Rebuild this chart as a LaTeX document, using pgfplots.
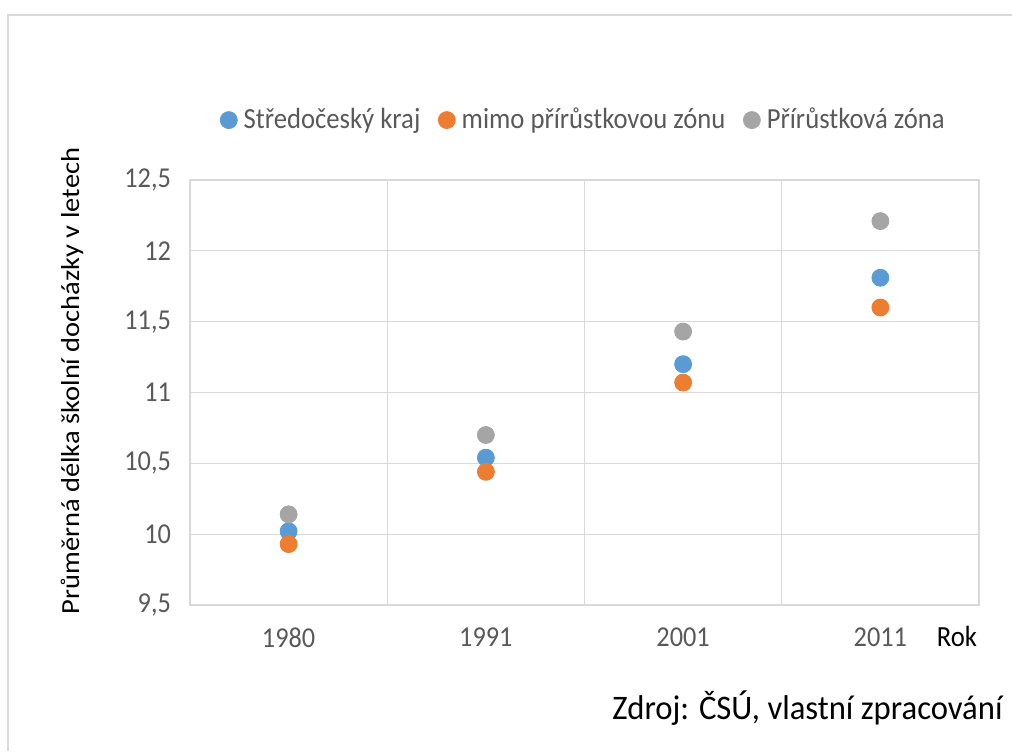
\documentclass[border=0pt]{standalone}
\usepackage{pgfplots}
\pgfplotsset{compat=1.18}
\usepackage{fontspec}
\setmainfont{Carlito}[FakeStretch=0.913]
\newfontfamily\rotfont{Carlito}[FakeStretch=1.095]
\newfontfamily\srcfont{Carlito}[FakeStretch=0.95]
\definecolor{cblue}{HTML}{5B9BD5}
\definecolor{corange}{HTML}{ED7D31}
\definecolor{cgray}{HTML}{A5A5A5}
\definecolor{gridc}{HTML}{D9D9D9}
\definecolor{tickc}{HTML}{595959}
\begin{document}
\begin{tikzpicture}
\path[use as bounding box] (0,0) rectangle (506pt,375.5pt);
\draw[gridc, line width=1.2pt] (4pt,0) -- (4pt,368pt) -- (506pt,368pt);
\begin{axis}[
  at={(95pt,73pt)}, anchor=south west,
  scale only axis, width=394.5pt, height=212.5pt,
  xmin=-0.5, xmax=3.5, ymin=9.5, ymax=12.5,
  xtick={0,1,2,3}, xticklabels={1980,1991,2001,2011},
  minor xtick={-0.5,0.5,1.5,2.5,3.5},
  ytick={9.5,10,10.5,11,11.5,12,12.5},
  yticklabel style={/pgf/number format/use comma,/pgf/number format/fixed},
  /pgf/number format/assume math mode=true,
  ymajorgrids, xminorgrids,
  grid style={gridc, line width=0.6pt},
  minor grid style={gridc, line width=0.6pt},
  axis line style={gridc, line width=0.6pt},
  major tick length=0pt, minor tick length=0pt,
  tick label style={font=\fontsize{14.4}{16}\selectfont, text=tickc},
  xticklabel style={yshift=-8pt},
  yticklabel style={xshift=-6pt},
  legend style={at={(0.5,1.141)}, anchor=center, draw=none, fill=none,
    legend columns=-1, font=\fontsize{14.6}{16}\selectfont, text=tickc,
    /tikz/every even column/.append style={column sep=7pt},
    /tikz/every odd column/.append style={column sep=1.2pt},
    legend cell align=left},
  clip=false,
]
\addplot[only marks, mark=*, mark size=4.25pt, color=cblue] coordinates {(0,10.02) (1,10.54) (2,11.20) (3,11.81)};
\addlegendentry{Středočeský kraj}
\addplot[only marks, mark=*, mark size=4.25pt, color=corange] coordinates {(0,9.93) (1,10.44) (2,11.07) (3,11.60)};
\addlegendentry{mimo přírůstkovou zónu}
\addplot[only marks, mark=*, mark size=4.25pt, color=cgray] coordinates {(0,10.14) (1,10.70) (2,11.43) (3,12.21)};
\addlegendentry{Přírůstková zóna}
\node[rotate=90, font=\rotfont\fontsize{13}{15}\selectfont, anchor=center] at (rel axis cs:-0.1496,0.527) {Průměrná délka školní docházky v letech};
\node[font=\fontsize{14.6}{16}\selectfont, anchor=center] at (rel axis cs:0.972,-0.075) {Rok};
\node[font=\srcfont\fontsize{17.2}{19}\selectfont, anchor=east, inner sep=0pt] at (rel axis cs:1.0304,-0.242) {Zdroj: ČSÚ, vlastní zpracování};
\end{axis}
\end{tikzpicture}
\end{document}
